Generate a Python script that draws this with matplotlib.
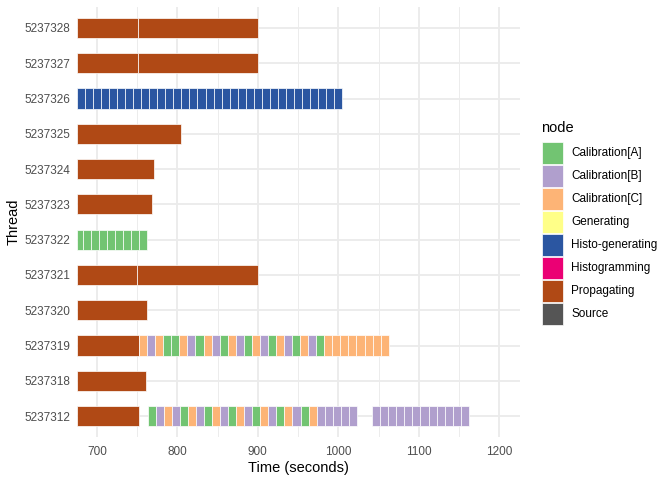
import matplotlib
matplotlib.use("Agg")
import matplotlib.pyplot as plt
from matplotlib.patches import Rectangle

plt.rcParams['font.family'] = ['Liberation Sans', 'DejaVu Sans']

# ---- data ----
threads = ['5237312', '5237318', '5237319', '5237320', '5237321', '5237322',
           '5237323', '5237324', '5237325', '5237326', '5237327', '5237328']

node_names = ['Calibration[A]', 'Calibration[B]', 'Calibration[C]', 'Generating',
              'Histo-generating', 'Histogramming', 'Propagating', 'Source']
node_colors = ['#72C472', '#B09FCD', '#FDB476', '#FFFF88',
               '#2B56A1', '#EB0074', '#B04915', '#555555']
code_to_node = {'A': 'Calibration[A]', 'B': 'Calibration[B]', 'C': 'Calibration[C]',
                'G': 'Generating', 'H': 'Histo-generating', 'S': 'Histogramming',
                'P': 'Propagating', 'O': 'Source'}

# each thread: list of runs (edges, node codes); consecutive edges bound one task
runs_5237312 = [
    ([675, 752.5], 'P'),
    ([763, 773, 783, 793, 803, 813, 823, 833, 843, 853, 863, 873, 883, 893,
      903, 913, 923, 933, 943, 953, 963, 973, 983, 993, 1003, 1013, 1023],
     'ABCBACBACBACBACBACBACBBBBB'),
    ([1042, 1052, 1062, 1072, 1082, 1092, 1102, 1112, 1122, 1132, 1142, 1152, 1162],
     'BBBBBBBBBBBB'),
]
runs_5237318 = [([675, 761], 'P')]
runs_5237319 = [
    ([675, 752], 'P'),
    ([752.5, 762.5, 772.5, 782.5, 792.5, 802.5, 812.5, 822.5, 832.5, 842.5, 852.5,
      862.5, 872.5, 882.5, 892.5, 902.5, 912.5, 922.5, 932.5, 942.5, 952.5, 962.5,
      972.5, 982.5, 992.5, 1002.5, 1012.5, 1022.5, 1032.5, 1042.5, 1052.5, 1062.5],
     'CBCAACBACBACBACBACBACBACCCCCCCC'),
]
runs_5237320 = [([675, 762], 'P')]
runs_5237321 = [([675, 750.5, 900], 'PP')]
runs_5237322 = [([675, 682.5, 692.5, 702.5, 712.5, 722.5, 732.5, 742.5, 752.5, 762.5],
                 'AAAAAAAAA')]
runs_5237323 = [([675, 768], 'P')]
runs_5237324 = [([675, 771], 'P')]
runs_5237325 = [([675, 804], 'P')]
runs_5237326 = [([675, 685, 695, 705, 715, 725, 735, 745, 755, 765, 775, 785, 795,
                  805, 815, 825, 835, 845, 855, 865, 875, 885, 895, 905, 915, 925,
                  935, 945, 955, 965, 975, 985, 995, 1005],
                 'HHHHHHHHHHHHHHHHHHHHHHHHHHHHHHHHH')]
runs_5237327 = [([675, 751, 900], 'PP')]
runs_5237328 = [([675, 751, 900], 'PP')]

thread_runs = [runs_5237312, runs_5237318, runs_5237319, runs_5237320, runs_5237321,
               runs_5237322, runs_5237323, runs_5237324, runs_5237325, runs_5237326,
               runs_5237327, runs_5237328]

x_ticks = [700, 800, 900, 1000, 1100, 1200]
x_minor = [750, 850, 950, 1050, 1150]

# ---- figure ----
W, H = 672, 480
fig = plt.figure(figsize=(7, 5), dpi=96)
left, right, top, bottom = 76.7, 519.5, 6.8, 437.3
ax = fig.add_axes([left / W, 1 - bottom / H, (right - left) / W, (bottom - top) / H])

grid_c = '#EBEBEB'
color_of = dict(zip(node_names, node_colors))

for yi, runs in enumerate(thread_runs):
    for edges, codes in runs:
        for k, code in enumerate(codes):
            s, e = edges[k], edges[k + 1]
            ax.barh(yi, e - s, left=s, height=0.57,
                    color=color_of[code_to_node[code]],
                    edgecolor=(1, 1, 1, 0.75), linewidth=0.7, zorder=3)

ax.set_xlim(675, 1225)
ax.set_ylim(-0.6, len(threads) - 0.4)
ax.set_xticks(x_ticks)
ax.set_xticks(x_minor, minor=True)
ax.set_yticks(range(len(threads)))
ax.set_yticklabels(threads)
ax.grid(True, which='major', color=grid_c, linewidth=1.4, zorder=0)
ax.grid(True, which='minor', axis='x', color=grid_c, linewidth=0.7, zorder=0)
ax.set_axisbelow(True)
for sp in ax.spines.values():
    sp.set_visible(False)
ax.tick_params(which='both', length=0, labelsize=8.8, labelcolor='#4D4D4D')
ax.tick_params(axis='x', pad=6.5)
ax.tick_params(axis='y', pad=5)
ax.set_xlabel('Time (seconds)', fontsize=11, labelpad=2)
ax.set_ylabel('Thread', fontsize=11, labelpad=2.5)

# ---- legend ----
def fx(px):
    return px / W

def fy(py):
    return 1 - py / H

fig.text(fx(541), fy(127.5), 'node', fontsize=11, ha='left', va='center')
key0 = 153.0
pitch = 23.0
ks = 21.6
for i, (nm, c) in enumerate(zip(node_names, node_colors)):
    cy = key0 + i * pitch
    fig.add_artist(Rectangle((fx(541.7), fy(cy + ks / 2)), ks / W, ks / H,
                             transform=fig.transFigure, facecolor=c,
                             edgecolor=(1, 1, 1, 0.75), linewidth=0.7))
    fig.text(fx(571), fy(cy), nm, fontsize=8.8, ha='left', va='center')

fig.savefig('out.png', dpi=96)
